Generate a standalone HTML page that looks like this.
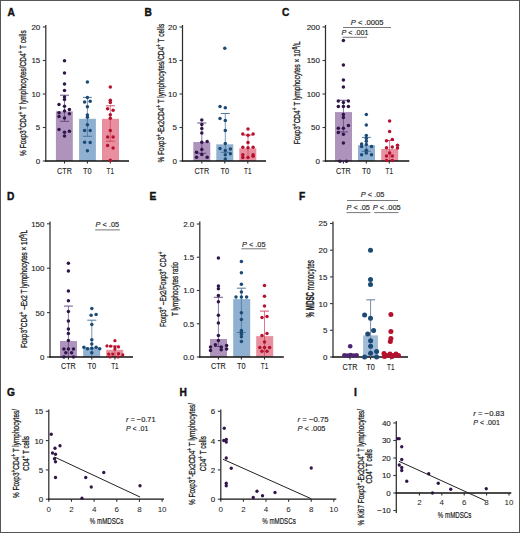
<!DOCTYPE html><html><head><meta charset="utf-8"><style>html,body{margin:0;padding:0;background:#fff;}svg{display:block;}</style></head><body>
<svg width="520" height="533" viewBox="0 0 520 533" font-family='"Liberation Sans", sans-serif'>
<rect x="0" y="0" width="520" height="533" fill="#fff" fill-opacity="1"/>
<line x1="0" y1="0.5" x2="520" y2="0.5" stroke="#555" stroke-width="1.0"/>
<line x1="0.5" y1="0" x2="0.5" y2="533" stroke="#555" stroke-width="1.0"/>
<line x1="519.5" y1="0" x2="519.5" y2="533" stroke="#555" stroke-width="1.0"/>
<line x1="0" y1="532.5" x2="520" y2="532.5" stroke="#555" stroke-width="1.0"/>
<text x="7.5" y="15.5" font-size="10.2" text-anchor="start" font-weight="bold" fill="#111"  stroke="#111" stroke-width="0.4">A</text>
<line x1="45.8" y1="25" x2="45.8" y2="161.5" stroke="#2e2e2e" stroke-width="1.25"/>
<line x1="42.8" y1="161.0" x2="45.8" y2="161.0" stroke="#3a3a3a" stroke-width="1.1"/>
<text x="40.3" y="163.9" font-size="8" text-anchor="end" font-weight="normal" fill="#222"  stroke="#222" stroke-width="0.12">0</text>
<line x1="42.8" y1="127.5" x2="45.8" y2="127.5" stroke="#3a3a3a" stroke-width="1.1"/>
<text x="40.3" y="130.4" font-size="8" text-anchor="end" font-weight="normal" fill="#222"  stroke="#222" stroke-width="0.12">5</text>
<line x1="42.8" y1="94.0" x2="45.8" y2="94.0" stroke="#3a3a3a" stroke-width="1.1"/>
<text x="40.3" y="96.9" font-size="8" text-anchor="end" font-weight="normal" fill="#222"  stroke="#222" stroke-width="0.12">10</text>
<line x1="42.8" y1="60.5" x2="45.8" y2="60.5" stroke="#3a3a3a" stroke-width="1.1"/>
<text x="40.3" y="63.4" font-size="8" text-anchor="end" font-weight="normal" fill="#222"  stroke="#222" stroke-width="0.12">15</text>
<line x1="42.8" y1="27.0" x2="45.8" y2="27.0" stroke="#3a3a3a" stroke-width="1.1"/>
<text x="40.3" y="29.9" font-size="8" text-anchor="end" font-weight="normal" fill="#222"  stroke="#222" stroke-width="0.12">20</text>
<rect x="55.9" y="111.3" width="16.9" height="49.7" fill="#ae94bc" fill-opacity="1"/>
<rect x="79.1" y="118.8" width="16.8" height="42.2" fill="#8fb0d0" fill-opacity="1"/>
<rect x="102" y="118.8" width="17" height="42.2" fill="#e8909f" fill-opacity="1"/>
<line x1="45.099999999999994" y1="161" x2="129" y2="161" stroke="#111" stroke-width="1.3"/>
<line x1="64.5" y1="161" x2="64.5" y2="163.5" stroke="#2a2a2a" stroke-width="1.1"/>
<line x1="87.4" y1="161" x2="87.4" y2="163.5" stroke="#2a2a2a" stroke-width="1.1"/>
<line x1="110.3" y1="161" x2="110.3" y2="163.5" stroke="#2a2a2a" stroke-width="1.1"/>
<line x1="64.5" y1="95.2" x2="64.5" y2="121.3" stroke="#5a3c78" stroke-width="0.7"/>
<line x1="60.0" y1="95.2" x2="69.0" y2="95.2" stroke="#5a3c78" stroke-width="0.9"/>
<line x1="60.0" y1="121.3" x2="69.0" y2="121.3" stroke="#5a3c78" stroke-width="0.9"/>
<line x1="87.4" y1="97.4" x2="87.4" y2="136.3" stroke="#3f6c96" stroke-width="0.7"/>
<line x1="82.9" y1="97.4" x2="91.9" y2="97.4" stroke="#3f6c96" stroke-width="0.9"/>
<line x1="82.9" y1="136.3" x2="91.9" y2="136.3" stroke="#3f6c96" stroke-width="0.9"/>
<line x1="110.3" y1="105.8" x2="110.3" y2="141.2" stroke="#d03c5c" stroke-width="0.7"/>
<line x1="105.8" y1="105.8" x2="114.8" y2="105.8" stroke="#d03c5c" stroke-width="0.9"/>
<line x1="105.8" y1="141.2" x2="114.8" y2="141.2" stroke="#d03c5c" stroke-width="0.9"/>
<circle cx="64.5" cy="60.8" r="1.75" fill="#30154a"/>
<circle cx="64.5" cy="73" r="1.75" fill="#30154a"/>
<circle cx="64.5" cy="83.9" r="1.75" fill="#30154a"/>
<circle cx="64.5" cy="90.5" r="1.75" fill="#30154a"/>
<circle cx="64.5" cy="97" r="1.75" fill="#30154a"/>
<circle cx="64.5" cy="99.6" r="1.75" fill="#30154a"/>
<circle cx="59" cy="104.4" r="1.75" fill="#30154a"/>
<circle cx="64.5" cy="106.3" r="1.75" fill="#30154a"/>
<circle cx="69.4" cy="109.5" r="1.75" fill="#30154a"/>
<circle cx="64.5" cy="110.9" r="1.75" fill="#30154a"/>
<circle cx="59" cy="112.7" r="1.75" fill="#30154a"/>
<circle cx="69.4" cy="113.7" r="1.75" fill="#30154a"/>
<circle cx="59" cy="116.5" r="1.75" fill="#30154a"/>
<circle cx="64.5" cy="117.9" r="1.75" fill="#30154a"/>
<circle cx="59" cy="129.4" r="1.75" fill="#30154a"/>
<circle cx="69.4" cy="131.3" r="1.75" fill="#30154a"/>
<circle cx="64.5" cy="132.2" r="1.75" fill="#30154a"/>
<circle cx="64.5" cy="135.9" r="1.75" fill="#30154a"/>
<circle cx="87.4" cy="81.9" r="1.75" fill="#1b4a74"/>
<circle cx="87.4" cy="97.4" r="1.75" fill="#1b4a74"/>
<circle cx="84.6" cy="101.9" r="1.75" fill="#1b4a74"/>
<circle cx="90.2" cy="101.2" r="1.75" fill="#1b4a74"/>
<circle cx="87.4" cy="106.75" r="1.75" fill="#1b4a74"/>
<circle cx="87.4" cy="115.1" r="1.75" fill="#1b4a74"/>
<circle cx="87.4" cy="117.2" r="1.75" fill="#1b4a74"/>
<circle cx="87.4" cy="124.8" r="1.75" fill="#1b4a74"/>
<circle cx="84.6" cy="130.4" r="1.75" fill="#1b4a74"/>
<circle cx="90.2" cy="130.4" r="1.75" fill="#1b4a74"/>
<circle cx="84.6" cy="142.2" r="1.75" fill="#1b4a74"/>
<circle cx="90.2" cy="142.6" r="1.75" fill="#1b4a74"/>
<circle cx="87.4" cy="150.8" r="1.75" fill="#1b4a74"/>
<circle cx="110.3" cy="87" r="1.75" fill="#b5112f"/>
<circle cx="110.3" cy="100.2" r="1.75" fill="#b5112f"/>
<circle cx="110.3" cy="102.6" r="1.75" fill="#b5112f"/>
<circle cx="107.6" cy="108.8" r="1.75" fill="#b5112f"/>
<circle cx="113.1" cy="110.2" r="1.75" fill="#b5112f"/>
<circle cx="110.3" cy="114.7" r="1.75" fill="#b5112f"/>
<circle cx="110.3" cy="118.3" r="1.75" fill="#b5112f"/>
<circle cx="110.3" cy="130.4" r="1.75" fill="#b5112f"/>
<circle cx="107.6" cy="136.9" r="1.75" fill="#b5112f"/>
<circle cx="113.1" cy="136.9" r="1.75" fill="#b5112f"/>
<circle cx="107.6" cy="145.6" r="1.75" fill="#b5112f"/>
<circle cx="113.1" cy="148" r="1.75" fill="#b5112f"/>
<circle cx="110.3" cy="160.2" r="1.75" fill="#b5112f"/>
<text x="64.5" y="173.8" font-size="8.6" text-anchor="middle" font-weight="normal" fill="#222" textLength="14.8" lengthAdjust="spacingAndGlyphs" stroke="#222" stroke-width="0.12">CTR</text>
<text x="87.4" y="173.8" font-size="8.6" text-anchor="middle" font-weight="normal" fill="#222" textLength="8.6" lengthAdjust="spacingAndGlyphs" stroke="#222" stroke-width="0.12">T0</text>
<text x="110.3" y="173.8" font-size="8.6" text-anchor="middle" font-weight="normal" fill="#222" textLength="7.4" lengthAdjust="spacingAndGlyphs" stroke="#222" stroke-width="0.12">T1</text>
<text transform="translate(26.2,93.10000000000001) rotate(-90)" x="0" y="0" font-size="9.2" font-weight="normal" text-anchor="middle" fill="#222" stroke="#222" stroke-width="0.3" textLength="125.60000000000001" lengthAdjust="spacingAndGlyphs">% Foxp3<tspan dy="-3" font-size="6.8">+</tspan><tspan dy="3">CD4</tspan><tspan dy="-3" font-size="6.8">+</tspan><tspan dy="3"> T lymphocytes/CD4</tspan><tspan dy="-3" font-size="6.8">+</tspan><tspan dy="3"> T cells</tspan></text>
<text x="144.5" y="15.5" font-size="10.2" text-anchor="start" font-weight="bold" fill="#111"  stroke="#111" stroke-width="0.4">B</text>
<line x1="182.5" y1="25" x2="182.5" y2="161.5" stroke="#2e2e2e" stroke-width="1.25"/>
<line x1="179.5" y1="161.0" x2="182.5" y2="161.0" stroke="#3a3a3a" stroke-width="1.1"/>
<text x="177.0" y="163.9" font-size="8" text-anchor="end" font-weight="normal" fill="#222"  stroke="#222" stroke-width="0.12">0</text>
<line x1="179.5" y1="127.5" x2="182.5" y2="127.5" stroke="#3a3a3a" stroke-width="1.1"/>
<text x="177.0" y="130.4" font-size="8" text-anchor="end" font-weight="normal" fill="#222"  stroke="#222" stroke-width="0.12">5</text>
<line x1="179.5" y1="94.0" x2="182.5" y2="94.0" stroke="#3a3a3a" stroke-width="1.1"/>
<text x="177.0" y="96.9" font-size="8" text-anchor="end" font-weight="normal" fill="#222"  stroke="#222" stroke-width="0.12">10</text>
<line x1="179.5" y1="60.5" x2="182.5" y2="60.5" stroke="#3a3a3a" stroke-width="1.1"/>
<text x="177.0" y="63.4" font-size="8" text-anchor="end" font-weight="normal" fill="#222"  stroke="#222" stroke-width="0.12">15</text>
<line x1="179.5" y1="27.0" x2="182.5" y2="27.0" stroke="#3a3a3a" stroke-width="1.1"/>
<text x="177.0" y="29.9" font-size="8" text-anchor="end" font-weight="normal" fill="#222"  stroke="#222" stroke-width="0.12">20</text>
<rect x="193.3" y="142" width="17" height="19" fill="#ae94bc" fill-opacity="1"/>
<rect x="216.3" y="144.3" width="17" height="16.69999999999999" fill="#8fb0d0" fill-opacity="1"/>
<rect x="239.3" y="148.3" width="17" height="12.699999999999989" fill="#e8909f" fill-opacity="1"/>
<line x1="181.8" y1="161" x2="266" y2="161" stroke="#111" stroke-width="1.3"/>
<line x1="201.8" y1="161" x2="201.8" y2="163.5" stroke="#2a2a2a" stroke-width="1.1"/>
<line x1="224.8" y1="161" x2="224.8" y2="163.5" stroke="#2a2a2a" stroke-width="1.1"/>
<line x1="247.8" y1="161" x2="247.8" y2="163.5" stroke="#2a2a2a" stroke-width="1.1"/>
<line x1="201.8" y1="123" x2="201.8" y2="153.3" stroke="#5a3c78" stroke-width="0.7"/>
<line x1="197.3" y1="123" x2="206.3" y2="123" stroke="#5a3c78" stroke-width="0.9"/>
<line x1="197.3" y1="153.3" x2="206.3" y2="153.3" stroke="#5a3c78" stroke-width="0.9"/>
<line x1="225.3" y1="113.5" x2="225.3" y2="152.3" stroke="#3f6c96" stroke-width="0.7"/>
<line x1="220.8" y1="113.5" x2="229.8" y2="113.5" stroke="#3f6c96" stroke-width="0.9"/>
<line x1="220.8" y1="152.3" x2="229.8" y2="152.3" stroke="#3f6c96" stroke-width="0.9"/>
<line x1="248" y1="135" x2="248" y2="158" stroke="#d03c5c" stroke-width="0.7"/>
<line x1="243.5" y1="135" x2="252.5" y2="135" stroke="#d03c5c" stroke-width="0.9"/>
<circle cx="201.8" cy="119.9" r="1.75" fill="#30154a"/>
<circle cx="201.8" cy="124.5" r="1.75" fill="#30154a"/>
<circle cx="201.8" cy="128.4" r="1.75" fill="#30154a"/>
<circle cx="201.8" cy="133" r="1.75" fill="#30154a"/>
<circle cx="201.8" cy="142.2" r="1.75" fill="#30154a"/>
<circle cx="207.2" cy="141.5" r="1.75" fill="#30154a"/>
<circle cx="201.8" cy="149.5" r="1.75" fill="#30154a"/>
<circle cx="196.5" cy="152.3" r="1.75" fill="#30154a"/>
<circle cx="201.8" cy="154.5" r="1.75" fill="#30154a"/>
<circle cx="196.5" cy="157.3" r="1.75" fill="#30154a"/>
<circle cx="207.2" cy="157.3" r="1.75" fill="#30154a"/>
<circle cx="224.8" cy="48.2" r="1.75" fill="#1b4a74"/>
<circle cx="220" cy="106.4" r="1.75" fill="#1b4a74"/>
<circle cx="225.3" cy="107.8" r="1.75" fill="#1b4a74"/>
<circle cx="220" cy="118.5" r="1.75" fill="#1b4a74"/>
<circle cx="225.3" cy="120.6" r="1.75" fill="#1b4a74"/>
<circle cx="225.3" cy="130.6" r="1.75" fill="#1b4a74"/>
<circle cx="225.3" cy="143.4" r="1.75" fill="#1b4a74"/>
<circle cx="220" cy="148.4" r="1.75" fill="#1b4a74"/>
<circle cx="230.4" cy="149.1" r="1.75" fill="#1b4a74"/>
<circle cx="225.3" cy="150.5" r="1.75" fill="#1b4a74"/>
<circle cx="230.4" cy="153.8" r="1.75" fill="#1b4a74"/>
<circle cx="225.3" cy="154.8" r="1.75" fill="#1b4a74"/>
<circle cx="225.3" cy="159" r="1.75" fill="#1b4a74"/>
<circle cx="248" cy="128.9" r="1.75" fill="#b5112f"/>
<circle cx="242.8" cy="134.1" r="1.75" fill="#b5112f"/>
<circle cx="248" cy="135.3" r="1.75" fill="#b5112f"/>
<circle cx="253.1" cy="134.1" r="1.75" fill="#b5112f"/>
<circle cx="248" cy="142.4" r="1.75" fill="#b5112f"/>
<circle cx="242.8" cy="147.2" r="1.75" fill="#b5112f"/>
<circle cx="253.1" cy="147.2" r="1.75" fill="#b5112f"/>
<circle cx="248" cy="147.7" r="1.75" fill="#b5112f"/>
<circle cx="242.8" cy="154.8" r="1.75" fill="#b5112f"/>
<circle cx="253.1" cy="154.8" r="1.75" fill="#b5112f"/>
<circle cx="242.8" cy="157.6" r="1.75" fill="#b5112f"/>
<circle cx="248" cy="157.6" r="1.75" fill="#b5112f"/>
<circle cx="253.1" cy="156.2" r="1.75" fill="#b5112f"/>
<text x="201.8" y="173.8" font-size="8.6" text-anchor="middle" font-weight="normal" fill="#222" textLength="14.8" lengthAdjust="spacingAndGlyphs" stroke="#222" stroke-width="0.12">CTR</text>
<text x="224.8" y="173.8" font-size="8.6" text-anchor="middle" font-weight="normal" fill="#222" textLength="8.6" lengthAdjust="spacingAndGlyphs" stroke="#222" stroke-width="0.12">T0</text>
<text x="247.8" y="173.8" font-size="8.6" text-anchor="middle" font-weight="normal" fill="#222" textLength="7.4" lengthAdjust="spacingAndGlyphs" stroke="#222" stroke-width="0.12">T1</text>
<text transform="translate(163.8,93.15) rotate(-90)" x="0" y="0" font-size="9.2" font-weight="normal" text-anchor="middle" fill="#222" stroke="#222" stroke-width="0.3" textLength="138.7" lengthAdjust="spacingAndGlyphs">% Foxp3<tspan dy="-3" font-size="6.8">+</tspan><tspan dy="3">-Ex2CD4</tspan><tspan dy="-3" font-size="6.8">+</tspan><tspan dy="3"> T lymphocytes/CD4</tspan><tspan dy="-3" font-size="6.8">+</tspan><tspan dy="3"> T cells</tspan></text>
<text x="282" y="15.5" font-size="10.2" text-anchor="start" font-weight="bold" fill="#111"  stroke="#111" stroke-width="0.4">C</text>
<line x1="325.5" y1="25" x2="325.5" y2="161.5" stroke="#2e2e2e" stroke-width="1.25"/>
<line x1="322.5" y1="161.0" x2="325.5" y2="161.0" stroke="#3a3a3a" stroke-width="1.1"/>
<text x="320.0" y="163.9" font-size="8" text-anchor="end" font-weight="normal" fill="#222"  stroke="#222" stroke-width="0.12">0</text>
<line x1="322.5" y1="127.5" x2="325.5" y2="127.5" stroke="#3a3a3a" stroke-width="1.1"/>
<text x="320.0" y="130.4" font-size="8" text-anchor="end" font-weight="normal" fill="#222"  stroke="#222" stroke-width="0.12">50</text>
<line x1="322.5" y1="94.0" x2="325.5" y2="94.0" stroke="#3a3a3a" stroke-width="1.1"/>
<text x="320.0" y="96.9" font-size="8" text-anchor="end" font-weight="normal" fill="#222"  stroke="#222" stroke-width="0.12">100</text>
<line x1="322.5" y1="60.5" x2="325.5" y2="60.5" stroke="#3a3a3a" stroke-width="1.1"/>
<text x="320.0" y="63.4" font-size="8" text-anchor="end" font-weight="normal" fill="#222"  stroke="#222" stroke-width="0.12">150</text>
<line x1="322.5" y1="27.0" x2="325.5" y2="27.0" stroke="#3a3a3a" stroke-width="1.1"/>
<text x="320.0" y="29.9" font-size="8" text-anchor="end" font-weight="normal" fill="#222"  stroke="#222" stroke-width="0.12">200</text>
<rect x="335" y="112.1" width="17" height="48.900000000000006" fill="#ae94bc" fill-opacity="1"/>
<rect x="358" y="145.2" width="17" height="15.800000000000011" fill="#8fb0d0" fill-opacity="1"/>
<rect x="381.2" y="149" width="17" height="12" fill="#e8909f" fill-opacity="1"/>
<line x1="324.8" y1="161" x2="409.3" y2="161" stroke="#111" stroke-width="1.3"/>
<line x1="343.4" y1="161" x2="343.4" y2="163.5" stroke="#2a2a2a" stroke-width="1.1"/>
<line x1="366.3" y1="161" x2="366.3" y2="163.5" stroke="#2a2a2a" stroke-width="1.1"/>
<line x1="389.3" y1="161" x2="389.3" y2="163.5" stroke="#2a2a2a" stroke-width="1.1"/>
<line x1="343.4" y1="100.3" x2="343.4" y2="131.9" stroke="#5a3c78" stroke-width="0.7"/>
<line x1="338.9" y1="100.3" x2="347.9" y2="100.3" stroke="#5a3c78" stroke-width="0.9"/>
<line x1="338.9" y1="131.9" x2="347.9" y2="131.9" stroke="#5a3c78" stroke-width="0.9"/>
<line x1="366.3" y1="137.4" x2="366.3" y2="151.3" stroke="#3f6c96" stroke-width="0.7"/>
<line x1="361.8" y1="137.4" x2="370.8" y2="137.4" stroke="#3f6c96" stroke-width="0.9"/>
<line x1="361.8" y1="151.3" x2="370.8" y2="151.3" stroke="#3f6c96" stroke-width="0.9"/>
<line x1="389.6" y1="140.5" x2="389.6" y2="160" stroke="#d03c5c" stroke-width="0.7"/>
<line x1="385.1" y1="140.5" x2="394.1" y2="140.5" stroke="#d03c5c" stroke-width="0.9"/>
<circle cx="343.4" cy="40.6" r="1.75" fill="#30154a"/>
<circle cx="343.4" cy="65" r="1.75" fill="#30154a"/>
<circle cx="343.4" cy="80.1" r="1.75" fill="#30154a"/>
<circle cx="343.4" cy="87" r="1.75" fill="#30154a"/>
<circle cx="338.3" cy="101" r="1.75" fill="#30154a"/>
<circle cx="343.4" cy="102.4" r="1.75" fill="#30154a"/>
<circle cx="348.4" cy="101" r="1.75" fill="#30154a"/>
<circle cx="338.3" cy="106.5" r="1.75" fill="#30154a"/>
<circle cx="343.4" cy="106.5" r="1.75" fill="#30154a"/>
<circle cx="348.4" cy="106.5" r="1.75" fill="#30154a"/>
<circle cx="343.4" cy="114.4" r="1.75" fill="#30154a"/>
<circle cx="343.4" cy="117.6" r="1.75" fill="#30154a"/>
<circle cx="348.4" cy="125.5" r="1.75" fill="#30154a"/>
<circle cx="338.3" cy="128.3" r="1.75" fill="#30154a"/>
<circle cx="343.4" cy="128.3" r="1.75" fill="#30154a"/>
<circle cx="338.3" cy="132.6" r="1.75" fill="#30154a"/>
<circle cx="343.4" cy="134.2" r="1.75" fill="#30154a"/>
<circle cx="343.4" cy="143" r="1.75" fill="#30154a"/>
<circle cx="340" cy="161.2" r="1.75" fill="#30154a"/>
<circle cx="346.5" cy="161.2" r="1.75" fill="#30154a"/>
<circle cx="366.3" cy="114.4" r="1.75" fill="#1b4a74"/>
<circle cx="366.3" cy="125" r="1.75" fill="#1b4a74"/>
<circle cx="366.3" cy="135.6" r="1.75" fill="#1b4a74"/>
<circle cx="366.3" cy="138.4" r="1.75" fill="#1b4a74"/>
<circle cx="366.3" cy="141.2" r="1.75" fill="#1b4a74"/>
<circle cx="361.6" cy="144" r="1.75" fill="#1b4a74"/>
<circle cx="366.3" cy="144.4" r="1.75" fill="#1b4a74"/>
<circle cx="361.6" cy="146.4" r="1.75" fill="#1b4a74"/>
<circle cx="371.5" cy="146.4" r="1.75" fill="#1b4a74"/>
<circle cx="366.3" cy="150.2" r="1.75" fill="#1b4a74"/>
<circle cx="366.3" cy="153" r="1.75" fill="#1b4a74"/>
<circle cx="361.6" cy="154.7" r="1.75" fill="#1b4a74"/>
<circle cx="371.5" cy="154.7" r="1.75" fill="#1b4a74"/>
<circle cx="389.6" cy="121.1" r="1.75" fill="#b5112f"/>
<circle cx="389.6" cy="131.5" r="1.75" fill="#b5112f"/>
<circle cx="386.5" cy="140.8" r="1.75" fill="#b5112f"/>
<circle cx="392.3" cy="139.4" r="1.75" fill="#b5112f"/>
<circle cx="397.5" cy="145.3" r="1.75" fill="#b5112f"/>
<circle cx="397.5" cy="148.1" r="1.75" fill="#b5112f"/>
<circle cx="386.5" cy="147.8" r="1.75" fill="#b5112f"/>
<circle cx="392.3" cy="147.1" r="1.75" fill="#b5112f"/>
<circle cx="389.6" cy="153" r="1.75" fill="#b5112f"/>
<circle cx="386.5" cy="156" r="1.75" fill="#b5112f"/>
<circle cx="392.3" cy="156" r="1.75" fill="#b5112f"/>
<circle cx="386.5" cy="160.6" r="1.75" fill="#b5112f"/>
<circle cx="392.3" cy="160.6" r="1.75" fill="#b5112f"/>
<text x="343.4" y="173.8" font-size="8.6" text-anchor="middle" font-weight="normal" fill="#222" textLength="14.8" lengthAdjust="spacingAndGlyphs" stroke="#222" stroke-width="0.12">CTR</text>
<text x="366.3" y="173.8" font-size="8.6" text-anchor="middle" font-weight="normal" fill="#222" textLength="8.6" lengthAdjust="spacingAndGlyphs" stroke="#222" stroke-width="0.12">T0</text>
<text x="389.3" y="173.8" font-size="8.6" text-anchor="middle" font-weight="normal" fill="#222" textLength="7.4" lengthAdjust="spacingAndGlyphs" stroke="#222" stroke-width="0.12">T1</text>
<text transform="translate(300.4,92.85) rotate(-90)" x="0" y="0" font-size="9.2" font-weight="normal" text-anchor="middle" fill="#222" stroke="#222" stroke-width="0.3" textLength="102.69999999999999" lengthAdjust="spacingAndGlyphs">Foxp3<tspan dy="-3" font-size="6.8">+</tspan><tspan dy="3">CD4</tspan><tspan dy="-3" font-size="6.8">+</tspan><tspan dy="3"> T lymphocytes × 10</tspan><tspan dy="-3" font-size="6.8">6</tspan><tspan dy="3">/L</tspan></text>
<text x="350.8" y="25.4" font-size="8" text-anchor="start" font-weight="normal" fill="#222" textLength="32.599999999999966" lengthAdjust="spacingAndGlyphs" stroke="#222" stroke-width="0.15"><tspan font-style="italic">P</tspan> &lt; .0005</text>
<line x1="343" y1="27.5" x2="391" y2="27.5" stroke="#555" stroke-width="0.8"/>
<text x="341.5" y="34.6" font-size="8" text-anchor="start" font-weight="normal" fill="#222" textLength="27.0" lengthAdjust="spacingAndGlyphs" stroke="#222" stroke-width="0.15"><tspan font-style="italic">P</tspan> &lt; .001</text>
<line x1="342.5" y1="37.3" x2="367" y2="37.3" stroke="#555" stroke-width="0.8"/>
<text x="7" y="200" font-size="10.2" text-anchor="start" font-weight="bold" fill="#111"  stroke="#111" stroke-width="0.4">D</text>
<line x1="50" y1="221.5" x2="50" y2="357.5" stroke="#2e2e2e" stroke-width="1.25"/>
<line x1="47" y1="357.0" x2="50" y2="357.0" stroke="#3a3a3a" stroke-width="1.1"/>
<text x="44.5" y="359.9" font-size="8" text-anchor="end" font-weight="normal" fill="#222"  stroke="#222" stroke-width="0.12">0</text>
<line x1="47" y1="312.6" x2="50" y2="312.6" stroke="#3a3a3a" stroke-width="1.1"/>
<text x="44.5" y="315.5" font-size="8" text-anchor="end" font-weight="normal" fill="#222"  stroke="#222" stroke-width="0.12">50</text>
<line x1="47" y1="268.2" x2="50" y2="268.2" stroke="#3a3a3a" stroke-width="1.1"/>
<text x="44.5" y="271.09999999999997" font-size="8" text-anchor="end" font-weight="normal" fill="#222"  stroke="#222" stroke-width="0.12">100</text>
<line x1="47" y1="223.8" x2="50" y2="223.8" stroke="#3a3a3a" stroke-width="1.1"/>
<text x="44.5" y="226.70000000000002" font-size="8" text-anchor="end" font-weight="normal" fill="#222"  stroke="#222" stroke-width="0.12">150</text>
<rect x="60" y="341" width="17" height="16" fill="#ae94bc" fill-opacity="1"/>
<rect x="83.2" y="347.6" width="17" height="9.399999999999977" fill="#8fb0d0" fill-opacity="1"/>
<rect x="106.2" y="349.8" width="17" height="7.199999999999989" fill="#e8909f" fill-opacity="1"/>
<line x1="49.3" y1="357" x2="133" y2="357" stroke="#111" stroke-width="1.3"/>
<line x1="68.4" y1="357" x2="68.4" y2="359.5" stroke="#2a2a2a" stroke-width="1.1"/>
<line x1="91.8" y1="357" x2="91.8" y2="359.5" stroke="#2a2a2a" stroke-width="1.1"/>
<line x1="114.9" y1="357" x2="114.9" y2="359.5" stroke="#2a2a2a" stroke-width="1.1"/>
<line x1="68.4" y1="306.1" x2="68.4" y2="356" stroke="#5a3c78" stroke-width="0.7"/>
<line x1="63.900000000000006" y1="306.1" x2="72.9" y2="306.1" stroke="#5a3c78" stroke-width="0.9"/>
<line x1="91.8" y1="320.2" x2="91.8" y2="356" stroke="#3f6c96" stroke-width="0.7"/>
<line x1="87.3" y1="320.2" x2="96.3" y2="320.2" stroke="#3f6c96" stroke-width="0.9"/>
<line x1="114.9" y1="346" x2="114.9" y2="356" stroke="#d03c5c" stroke-width="0.7"/>
<line x1="110.4" y1="346" x2="119.4" y2="346" stroke="#d03c5c" stroke-width="0.9"/>
<circle cx="68.4" cy="263.3" r="1.75" fill="#30154a"/>
<circle cx="68.4" cy="271.1" r="1.75" fill="#30154a"/>
<circle cx="68.4" cy="291" r="1.75" fill="#30154a"/>
<circle cx="68.4" cy="300.7" r="1.75" fill="#30154a"/>
<circle cx="68.4" cy="311.5" r="1.75" fill="#30154a"/>
<circle cx="68.4" cy="320.9" r="1.75" fill="#30154a"/>
<circle cx="68.4" cy="328.9" r="1.75" fill="#30154a"/>
<circle cx="68.4" cy="333.5" r="1.75" fill="#30154a"/>
<circle cx="68.4" cy="340.4" r="1.75" fill="#30154a"/>
<circle cx="63.9" cy="349.1" r="1.75" fill="#30154a"/>
<circle cx="68.4" cy="349.1" r="1.75" fill="#30154a"/>
<circle cx="73.5" cy="349.1" r="1.75" fill="#30154a"/>
<circle cx="65.8" cy="352.7" r="1.75" fill="#30154a"/>
<circle cx="71.6" cy="352.7" r="1.75" fill="#30154a"/>
<circle cx="63.9" cy="357" r="1.75" fill="#30154a"/>
<circle cx="73.5" cy="357" r="1.75" fill="#30154a"/>
<circle cx="91.8" cy="308.4" r="1.75" fill="#1b4a74"/>
<circle cx="91.1" cy="315.2" r="1.75" fill="#1b4a74"/>
<circle cx="96.1" cy="314.4" r="1.75" fill="#1b4a74"/>
<circle cx="91.8" cy="324.5" r="1.75" fill="#1b4a74"/>
<circle cx="91.8" cy="339.7" r="1.75" fill="#1b4a74"/>
<circle cx="91.8" cy="344" r="1.75" fill="#1b4a74"/>
<circle cx="83.9" cy="347.3" r="1.75" fill="#1b4a74"/>
<circle cx="87.5" cy="348.8" r="1.75" fill="#1b4a74"/>
<circle cx="91.8" cy="348.3" r="1.75" fill="#1b4a74"/>
<circle cx="96.1" cy="347.3" r="1.75" fill="#1b4a74"/>
<circle cx="99.7" cy="348.8" r="1.75" fill="#1b4a74"/>
<circle cx="91.8" cy="352.7" r="1.75" fill="#1b4a74"/>
<circle cx="114.9" cy="340.7" r="1.6" fill="#b5112f"/>
<circle cx="107" cy="345.9" r="1.6" fill="#b5112f"/>
<circle cx="110.6" cy="346.2" r="1.6" fill="#b5112f"/>
<circle cx="114.9" cy="346.9" r="1.6" fill="#b5112f"/>
<circle cx="118.5" cy="346.9" r="1.6" fill="#b5112f"/>
<circle cx="114.9" cy="349.1" r="1.6" fill="#b5112f"/>
<circle cx="108.7" cy="354.1" r="1.6" fill="#b5112f"/>
<circle cx="112.7" cy="354.1" r="1.6" fill="#b5112f"/>
<circle cx="118.5" cy="353.7" r="1.6" fill="#b5112f"/>
<circle cx="122.8" cy="354.8" r="1.6" fill="#b5112f"/>
<circle cx="110" cy="357" r="1.6" fill="#b5112f"/>
<circle cx="118" cy="357" r="1.6" fill="#b5112f"/>
<text x="68.4" y="369.3" font-size="8.6" text-anchor="middle" font-weight="normal" fill="#222" textLength="14.8" lengthAdjust="spacingAndGlyphs" stroke="#222" stroke-width="0.12">CTR</text>
<text x="91.8" y="369.3" font-size="8.6" text-anchor="middle" font-weight="normal" fill="#222" textLength="8.6" lengthAdjust="spacingAndGlyphs" stroke="#222" stroke-width="0.12">T0</text>
<text x="114.9" y="369.3" font-size="8.6" text-anchor="middle" font-weight="normal" fill="#222" textLength="7.4" lengthAdjust="spacingAndGlyphs" stroke="#222" stroke-width="0.12">T1</text>
<text transform="translate(26.9,288.85) rotate(-90)" x="0" y="0" font-size="9.2" font-weight="normal" text-anchor="middle" fill="#222" stroke="#222" stroke-width="0.3" textLength="118.09999999999997" lengthAdjust="spacingAndGlyphs">Foxp3<tspan dy="-3" font-size="6.8">+</tspan><tspan dy="3">CD4</tspan><tspan dy="-3" font-size="6.8">+</tspan><tspan dy="3"> –Ex2 T lymphocytes × 10</tspan><tspan dy="-3" font-size="6.8">6</tspan><tspan dy="3">/L</tspan></text>
<text x="95.6" y="227.3" font-size="8" text-anchor="start" font-weight="normal" fill="#222" textLength="23.5" lengthAdjust="spacingAndGlyphs" stroke="#222" stroke-width="0.15"><tspan font-style="italic">P</tspan> &lt; .05</text>
<line x1="95.1" y1="229.9" x2="119.8" y2="229.9" stroke="#555" stroke-width="0.8"/>
<text x="149.5" y="200" font-size="10.2" text-anchor="start" font-weight="bold" fill="#111"  stroke="#111" stroke-width="0.4">E</text>
<line x1="199.8" y1="221.5" x2="199.8" y2="357.5" stroke="#2e2e2e" stroke-width="1.25"/>
<line x1="196.8" y1="357.0" x2="199.8" y2="357.0" stroke="#3a3a3a" stroke-width="1.1"/>
<text x="194.3" y="359.9" font-size="8" text-anchor="end" font-weight="normal" fill="#222"  stroke="#222" stroke-width="0.12">0.0</text>
<line x1="196.8" y1="323.75" x2="199.8" y2="323.75" stroke="#3a3a3a" stroke-width="1.1"/>
<text x="194.3" y="326.65" font-size="8" text-anchor="end" font-weight="normal" fill="#222"  stroke="#222" stroke-width="0.12">0.5</text>
<line x1="196.8" y1="290.5" x2="199.8" y2="290.5" stroke="#3a3a3a" stroke-width="1.1"/>
<text x="194.3" y="293.4" font-size="8" text-anchor="end" font-weight="normal" fill="#222"  stroke="#222" stroke-width="0.12">1.0</text>
<line x1="196.8" y1="257.25" x2="199.8" y2="257.25" stroke="#3a3a3a" stroke-width="1.1"/>
<text x="194.3" y="260.15" font-size="8" text-anchor="end" font-weight="normal" fill="#222"  stroke="#222" stroke-width="0.12">1.5</text>
<line x1="196.8" y1="224.0" x2="199.8" y2="224.0" stroke="#3a3a3a" stroke-width="1.1"/>
<text x="194.3" y="226.9" font-size="8" text-anchor="end" font-weight="normal" fill="#222"  stroke="#222" stroke-width="0.12">2.0</text>
<rect x="210" y="339" width="17" height="18" fill="#ae94bc" fill-opacity="1"/>
<rect x="233.2" y="299.1" width="17" height="57.89999999999998" fill="#8fb0d0" fill-opacity="1"/>
<rect x="256.2" y="336.1" width="17" height="20.899999999999977" fill="#e8909f" fill-opacity="1"/>
<line x1="199.10000000000002" y1="357" x2="283.8" y2="357" stroke="#111" stroke-width="1.3"/>
<line x1="218.4" y1="357" x2="218.4" y2="359.5" stroke="#2a2a2a" stroke-width="1.1"/>
<line x1="241.4" y1="357" x2="241.4" y2="359.5" stroke="#2a2a2a" stroke-width="1.1"/>
<line x1="264.5" y1="357" x2="264.5" y2="359.5" stroke="#2a2a2a" stroke-width="1.1"/>
<line x1="218.4" y1="297.3" x2="218.4" y2="346.5" stroke="#5a3c78" stroke-width="0.7"/>
<line x1="213.9" y1="297.3" x2="222.9" y2="297.3" stroke="#5a3c78" stroke-width="0.9"/>
<line x1="213.9" y1="346.5" x2="222.9" y2="346.5" stroke="#5a3c78" stroke-width="0.9"/>
<line x1="241.4" y1="288.2" x2="241.4" y2="332.5" stroke="#3f6c96" stroke-width="0.7"/>
<line x1="236.9" y1="288.2" x2="245.9" y2="288.2" stroke="#3f6c96" stroke-width="0.9"/>
<line x1="236.9" y1="332.5" x2="245.9" y2="332.5" stroke="#3f6c96" stroke-width="0.9"/>
<line x1="264.5" y1="311.1" x2="264.5" y2="356" stroke="#d03c5c" stroke-width="0.7"/>
<line x1="260.0" y1="311.1" x2="269.0" y2="311.1" stroke="#d03c5c" stroke-width="0.9"/>
<circle cx="218.4" cy="257.9" r="1.75" fill="#30154a"/>
<circle cx="218.4" cy="286.1" r="1.75" fill="#30154a"/>
<circle cx="218.4" cy="288.7" r="1.75" fill="#30154a"/>
<circle cx="218.4" cy="295.5" r="1.75" fill="#30154a"/>
<circle cx="218.4" cy="301.7" r="1.75" fill="#30154a"/>
<circle cx="218.4" cy="315.2" r="1.75" fill="#30154a"/>
<circle cx="218.4" cy="323.1" r="1.75" fill="#30154a"/>
<circle cx="218.4" cy="335.4" r="1.75" fill="#30154a"/>
<circle cx="218.4" cy="340.4" r="1.75" fill="#30154a"/>
<circle cx="215.4" cy="344.7" r="1.75" fill="#30154a"/>
<circle cx="210.5" cy="346.9" r="1.75" fill="#30154a"/>
<circle cx="210.5" cy="350.5" r="1.75" fill="#30154a"/>
<circle cx="221.2" cy="346.9" r="1.75" fill="#30154a"/>
<circle cx="221.2" cy="349.8" r="1.75" fill="#30154a"/>
<circle cx="226.6" cy="345.5" r="1.75" fill="#30154a"/>
<circle cx="226.6" cy="349.1" r="1.75" fill="#30154a"/>
<circle cx="241.4" cy="261.5" r="1.75" fill="#1b4a74"/>
<circle cx="241.4" cy="272.7" r="1.75" fill="#1b4a74"/>
<circle cx="241.4" cy="284.3" r="1.75" fill="#1b4a74"/>
<circle cx="241.4" cy="292.1" r="1.75" fill="#1b4a74"/>
<circle cx="236" cy="296.9" r="1.75" fill="#1b4a74"/>
<circle cx="241.4" cy="296.9" r="1.75" fill="#1b4a74"/>
<circle cx="246.6" cy="296.9" r="1.75" fill="#1b4a74"/>
<circle cx="241.4" cy="312.7" r="1.75" fill="#1b4a74"/>
<circle cx="241.4" cy="319.5" r="1.75" fill="#1b4a74"/>
<circle cx="241.4" cy="330.6" r="1.75" fill="#1b4a74"/>
<circle cx="241.4" cy="332" r="1.75" fill="#1b4a74"/>
<circle cx="241.4" cy="334.3" r="1.75" fill="#1b4a74"/>
<circle cx="241.4" cy="336.8" r="1.75" fill="#1b4a74"/>
<circle cx="241.4" cy="341.6" r="1.75" fill="#1b4a74"/>
<circle cx="264.5" cy="285.4" r="1.75" fill="#b5112f"/>
<circle cx="264.5" cy="296.2" r="1.75" fill="#b5112f"/>
<circle cx="264.5" cy="306" r="1.75" fill="#b5112f"/>
<circle cx="262" cy="317.6" r="1.75" fill="#b5112f"/>
<circle cx="267" cy="316.6" r="1.75" fill="#b5112f"/>
<circle cx="262" cy="335.4" r="1.75" fill="#b5112f"/>
<circle cx="267" cy="333.5" r="1.75" fill="#b5112f"/>
<circle cx="264.5" cy="342.1" r="1.75" fill="#b5112f"/>
<circle cx="259.8" cy="347.6" r="1.75" fill="#b5112f"/>
<circle cx="264.5" cy="347.6" r="1.75" fill="#b5112f"/>
<circle cx="269.6" cy="347.6" r="1.75" fill="#b5112f"/>
<circle cx="262" cy="351.2" r="1.75" fill="#b5112f"/>
<circle cx="267" cy="351.2" r="1.75" fill="#b5112f"/>
<text x="218.4" y="369.3" font-size="8.6" text-anchor="middle" font-weight="normal" fill="#222" textLength="14.8" lengthAdjust="spacingAndGlyphs" stroke="#222" stroke-width="0.12">CTR</text>
<text x="241.4" y="369.3" font-size="8.6" text-anchor="middle" font-weight="normal" fill="#222" textLength="8.6" lengthAdjust="spacingAndGlyphs" stroke="#222" stroke-width="0.12">T0</text>
<text x="264.5" y="369.3" font-size="8.6" text-anchor="middle" font-weight="normal" fill="#222" textLength="7.4" lengthAdjust="spacingAndGlyphs" stroke="#222" stroke-width="0.12">T1</text>
<text transform="translate(166.3,289.3) rotate(-90)" x="0" y="0" font-size="9.2" font-weight="normal" text-anchor="middle" fill="#222" stroke="#222" stroke-width="0.3" textLength="75.4" lengthAdjust="spacingAndGlyphs">Foxp3<tspan dy="-3" font-size="6.8">+</tspan><tspan dy="3"> –Ex2/Foxp3</tspan><tspan dy="-3" font-size="6.8">+</tspan><tspan dy="3"> CD4</tspan><tspan dy="-3" font-size="6.8">+</tspan><tspan dy="3"></tspan></text>
<text transform="translate(178.1,289.0) rotate(-90)" x="0" y="0" font-size="9.2" font-weight="normal" text-anchor="middle" fill="#222" stroke="#222" stroke-width="0.3" textLength="54" lengthAdjust="spacingAndGlyphs">T lymphocytes ratio</text>
<text x="242" y="246.6" font-size="8" text-anchor="start" font-weight="normal" fill="#222" textLength="23.5" lengthAdjust="spacingAndGlyphs" stroke="#222" stroke-width="0.15"><tspan font-style="italic">P</tspan> &lt; .05</text>
<line x1="241.25" y1="248.8" x2="266.25" y2="248.8" stroke="#555" stroke-width="0.8"/>
<text x="299" y="200" font-size="10.2" text-anchor="start" font-weight="bold" fill="#111"  stroke="#111" stroke-width="0.4">F</text>
<line x1="333" y1="221.5" x2="333" y2="357.5" stroke="#2e2e2e" stroke-width="1.25"/>
<line x1="330" y1="357.0" x2="333" y2="357.0" stroke="#3a3a3a" stroke-width="1.1"/>
<text x="327.5" y="359.9" font-size="8" text-anchor="end" font-weight="normal" fill="#222"  stroke="#222" stroke-width="0.12">0</text>
<line x1="330" y1="330.3" x2="333" y2="330.3" stroke="#3a3a3a" stroke-width="1.1"/>
<text x="327.5" y="333.2" font-size="8" text-anchor="end" font-weight="normal" fill="#222"  stroke="#222" stroke-width="0.12">5</text>
<line x1="330" y1="303.6" x2="333" y2="303.6" stroke="#3a3a3a" stroke-width="1.1"/>
<text x="327.5" y="306.5" font-size="8" text-anchor="end" font-weight="normal" fill="#222"  stroke="#222" stroke-width="0.12">10</text>
<line x1="330" y1="276.9" x2="333" y2="276.9" stroke="#3a3a3a" stroke-width="1.1"/>
<text x="327.5" y="279.79999999999995" font-size="8" text-anchor="end" font-weight="normal" fill="#222"  stroke="#222" stroke-width="0.12">15</text>
<line x1="330" y1="250.2" x2="333" y2="250.2" stroke="#3a3a3a" stroke-width="1.1"/>
<text x="327.5" y="253.1" font-size="8" text-anchor="end" font-weight="normal" fill="#222"  stroke="#222" stroke-width="0.12">20</text>
<line x1="330" y1="223.5" x2="333" y2="223.5" stroke="#3a3a3a" stroke-width="1.1"/>
<text x="327.5" y="226.4" font-size="8" text-anchor="end" font-weight="normal" fill="#222"  stroke="#222" stroke-width="0.12">25</text>
<rect x="363.1" y="335.4" width="14.9" height="21.600000000000023" fill="#8fb0d0" fill-opacity="0.85"/>
<line x1="332.3" y1="357" x2="408" y2="357" stroke="#111" stroke-width="1.3"/>
<line x1="350" y1="357" x2="350" y2="359.5" stroke="#2a2a2a" stroke-width="1.1"/>
<line x1="370.6" y1="357" x2="370.6" y2="359.5" stroke="#2a2a2a" stroke-width="1.1"/>
<line x1="390.8" y1="357" x2="390.8" y2="359.5" stroke="#2a2a2a" stroke-width="1.1"/>
<line x1="370.6" y1="299.8" x2="370.6" y2="357" stroke="#7a8ea8" stroke-width="1.0"/>
<line x1="366.3" y1="299.8" x2="375" y2="299.8" stroke="#7a8ea8" stroke-width="1.2"/>
<circle cx="350.2" cy="346.2" r="2.3" fill="#4e2470"/>
<circle cx="344.4" cy="355.3" r="2.3" fill="#4e2470"/>
<circle cx="347.5" cy="355.6" r="2.3" fill="#4e2470"/>
<circle cx="350.6" cy="355" r="2.3" fill="#4e2470"/>
<circle cx="353.7" cy="355.6" r="2.3" fill="#4e2470"/>
<circle cx="356.6" cy="355.3" r="2.3" fill="#4e2470"/>
<circle cx="370.5" cy="250.3" r="2.5" fill="#1b4a74"/>
<circle cx="370.5" cy="279.5" r="2.5" fill="#1b4a74"/>
<circle cx="370.5" cy="284.5" r="2.5" fill="#1b4a74"/>
<circle cx="364.6" cy="315" r="2.5" fill="#1b4a74"/>
<circle cx="370.5" cy="318.2" r="2.5" fill="#1b4a74"/>
<circle cx="373.6" cy="330.4" r="2.5" fill="#1b4a74"/>
<circle cx="367.7" cy="334" r="2.5" fill="#1b4a74"/>
<circle cx="370.6" cy="340.8" r="2.5" fill="#1b4a74"/>
<circle cx="370.6" cy="346.2" r="2.5" fill="#1b4a74"/>
<circle cx="370.6" cy="353.2" r="2.5" fill="#1b4a74"/>
<circle cx="376.6" cy="351.6" r="2.5" fill="#1b4a74"/>
<circle cx="364.6" cy="357" r="2.5" fill="#1b4a74"/>
<circle cx="376.6" cy="357" r="2.5" fill="#1b4a74"/>
<circle cx="390.9" cy="314.4" r="2.5" fill="#b5112f"/>
<circle cx="390.9" cy="331.6" r="2.5" fill="#b5112f"/>
<circle cx="390.9" cy="338.5" r="2.5" fill="#b5112f"/>
<circle cx="390.3" cy="341.4" r="2.5" fill="#b5112f"/>
<circle cx="384" cy="353.5" r="2.5" fill="#b5112f"/>
<circle cx="387" cy="355.5" r="2.5" fill="#b5112f"/>
<circle cx="390" cy="354" r="2.5" fill="#b5112f"/>
<circle cx="393" cy="355.5" r="2.5" fill="#b5112f"/>
<circle cx="396" cy="354" r="2.5" fill="#b5112f"/>
<circle cx="398.5" cy="355.5" r="2.5" fill="#b5112f"/>
<circle cx="384.5" cy="356.5" r="2.5" fill="#b5112f"/>
<circle cx="392" cy="356.5" r="2.5" fill="#b5112f"/>
<text x="350" y="369.5" font-size="8.6" text-anchor="middle" font-weight="normal" fill="#222" textLength="14.8" lengthAdjust="spacingAndGlyphs" stroke="#222" stroke-width="0.12">CTR</text>
<text x="370.6" y="369.5" font-size="8.6" text-anchor="middle" font-weight="normal" fill="#222" textLength="8.6" lengthAdjust="spacingAndGlyphs" stroke="#222" stroke-width="0.12">T0</text>
<text x="390.8" y="369.5" font-size="8.6" text-anchor="middle" font-weight="normal" fill="#222" textLength="7.4" lengthAdjust="spacingAndGlyphs" stroke="#222" stroke-width="0.12">T1</text>
<text transform="translate(313.6,288.85) rotate(-90)" x="0" y="0" font-size="10.2" font-weight="normal" text-anchor="middle" fill="#222" stroke="#222" stroke-width="0.3" textLength="57.30000000000001" lengthAdjust="spacingAndGlyphs">% <tspan font-weight="bold">MDSC</tspan> monocytes</text>
<text x="360.75" y="197.2" font-size="8" text-anchor="start" font-weight="normal" fill="#222" textLength="23.75" lengthAdjust="spacingAndGlyphs" stroke="#222" stroke-width="0.15"><tspan font-style="italic">P</tspan> &lt; .05</text>
<line x1="347" y1="200.5" x2="398" y2="200.5" stroke="#555" stroke-width="0.8"/>
<text x="346.5" y="209.7" font-size="8" text-anchor="start" font-weight="normal" fill="#222" textLength="23.399999999999977" lengthAdjust="spacingAndGlyphs" stroke="#222" stroke-width="0.15"><tspan font-style="italic">P</tspan> &lt; .05</text>
<line x1="346.5" y1="212.6" x2="370.4" y2="212.6" stroke="#555" stroke-width="0.8"/>
<text x="372.8" y="209.7" font-size="8" text-anchor="start" font-weight="normal" fill="#222" textLength="27.899999999999977" lengthAdjust="spacingAndGlyphs" stroke="#222" stroke-width="0.15"><tspan font-style="italic">P</tspan> &lt; .005</text>
<line x1="374.2" y1="212.6" x2="398.5" y2="212.6" stroke="#555" stroke-width="0.8"/>
<text x="7" y="396" font-size="10.2" text-anchor="start" font-weight="bold" fill="#111"  stroke="#111" stroke-width="0.4">G</text>
<line x1="48.8" y1="409.5" x2="48.8" y2="499.7" stroke="#2e2e2e" stroke-width="1.25"/>
<line x1="45.8" y1="499.2" x2="48.8" y2="499.2" stroke="#3a3a3a" stroke-width="1.1"/>
<text x="43.3" y="502.09999999999997" font-size="8" text-anchor="end" font-weight="normal" fill="#222"  stroke="#222" stroke-width="0.12">0</text>
<line x1="45.8" y1="469.9" x2="48.8" y2="469.9" stroke="#3a3a3a" stroke-width="1.1"/>
<text x="43.3" y="472.79999999999995" font-size="8" text-anchor="end" font-weight="normal" fill="#222"  stroke="#222" stroke-width="0.12">5</text>
<line x1="45.8" y1="440.59999999999997" x2="48.8" y2="440.59999999999997" stroke="#3a3a3a" stroke-width="1.1"/>
<text x="43.3" y="443.49999999999994" font-size="8" text-anchor="end" font-weight="normal" fill="#222"  stroke="#222" stroke-width="0.12">10</text>
<line x1="45.8" y1="411.29999999999995" x2="48.8" y2="411.29999999999995" stroke="#3a3a3a" stroke-width="1.1"/>
<text x="43.3" y="414.19999999999993" font-size="8" text-anchor="end" font-weight="normal" fill="#222"  stroke="#222" stroke-width="0.12">15</text>
<line x1="48.099999999999994" y1="499.2" x2="164" y2="499.2" stroke="#111" stroke-width="1.3"/>
<line x1="48.8" y1="499.2" x2="48.8" y2="501.7" stroke="#2a2a2a" stroke-width="1.1"/>
<text x="48.8" y="511.8" font-size="8" text-anchor="middle" font-weight="normal" fill="#222"  >0</text>
<line x1="71.46" y1="499.2" x2="71.46" y2="501.7" stroke="#2a2a2a" stroke-width="1.1"/>
<text x="71.46" y="511.8" font-size="8" text-anchor="middle" font-weight="normal" fill="#222"  >2</text>
<line x1="94.12" y1="499.2" x2="94.12" y2="501.7" stroke="#2a2a2a" stroke-width="1.1"/>
<text x="94.12" y="511.8" font-size="8" text-anchor="middle" font-weight="normal" fill="#222"  >4</text>
<line x1="116.78" y1="499.2" x2="116.78" y2="501.7" stroke="#2a2a2a" stroke-width="1.1"/>
<text x="116.78" y="511.8" font-size="8" text-anchor="middle" font-weight="normal" fill="#222"  >6</text>
<line x1="139.44" y1="499.2" x2="139.44" y2="501.7" stroke="#2a2a2a" stroke-width="1.1"/>
<text x="139.44" y="511.8" font-size="8" text-anchor="middle" font-weight="normal" fill="#222"  >8</text>
<line x1="162.1" y1="499.2" x2="162.1" y2="501.7" stroke="#2a2a2a" stroke-width="1.1"/>
<text x="162.1" y="511.8" font-size="8" text-anchor="middle" font-weight="normal" fill="#222"  >10</text>
<text x="106.6" y="523.8" font-size="9.2" text-anchor="middle" font-weight="normal" fill="#222" textLength="33.5" lengthAdjust="spacingAndGlyphs" stroke="#222" stroke-width="0.2">% mMDSCs</text>
<circle cx="51.25" cy="434.25" r="1.65" fill="#30154a"/>
<circle cx="52.5" cy="453" r="1.65" fill="#30154a"/>
<circle cx="60" cy="445.75" r="1.65" fill="#30154a"/>
<circle cx="55" cy="448.25" r="1.65" fill="#30154a"/>
<circle cx="55.5" cy="454.25" r="1.65" fill="#30154a"/>
<circle cx="54.5" cy="458.75" r="1.65" fill="#30154a"/>
<circle cx="55.5" cy="461.75" r="1.65" fill="#30154a"/>
<circle cx="55.5" cy="477.5" r="1.65" fill="#30154a"/>
<circle cx="85.75" cy="477.5" r="1.65" fill="#30154a"/>
<circle cx="103.75" cy="472.5" r="1.65" fill="#30154a"/>
<circle cx="91.25" cy="487" r="1.65" fill="#30154a"/>
<circle cx="82" cy="498.25" r="1.65" fill="#30154a"/>
<circle cx="140" cy="485.75" r="1.65" fill="#30154a"/>
<line x1="54.5" y1="457" x2="140" y2="497" stroke="#222" stroke-width="1.0"/>
<text transform="translate(18.5,453.5) rotate(-90)" x="0" y="0" font-size="9.2" font-weight="normal" text-anchor="middle" fill="#222" stroke="#222" stroke-width="0.3" textLength="89" lengthAdjust="spacingAndGlyphs">% Foxp3<tspan dy="-3" font-size="6.8">+</tspan><tspan dy="3">CD4</tspan><tspan dy="-3" font-size="6.8">+</tspan><tspan dy="3"> T lymphocytes/</tspan></text>
<text transform="translate(29.2,453.4) rotate(-90)" x="0" y="0" font-size="9.2" font-weight="normal" text-anchor="middle" fill="#222" stroke="#222" stroke-width="0.3" textLength="34.80000000000001" lengthAdjust="spacingAndGlyphs">CD4<tspan dy="-3" font-size="6.8">+</tspan><tspan dy="3"> T cells</tspan></text>
<text x="125.9" y="422.0" font-size="8" text-anchor="start" font-weight="normal" fill="#222" textLength="29.7" lengthAdjust="spacingAndGlyphs" stroke="#222" stroke-width="0.15"><tspan font-style="italic">r</tspan> = −0.71</text>
<text x="125.9" y="430.9" font-size="8" text-anchor="start" font-weight="normal" fill="#222" textLength="22.5" lengthAdjust="spacingAndGlyphs" stroke="#222" stroke-width="0.15"><tspan font-style="italic">P</tspan> &lt; .01</text>
<text x="179.5" y="396" font-size="10.2" text-anchor="start" font-weight="bold" fill="#111"  stroke="#111" stroke-width="0.4">H</text>
<line x1="220.8" y1="409.5" x2="220.8" y2="499.7" stroke="#2e2e2e" stroke-width="1.25"/>
<line x1="217.8" y1="499.2" x2="220.8" y2="499.2" stroke="#3a3a3a" stroke-width="1.1"/>
<text x="215.3" y="502.09999999999997" font-size="8" text-anchor="end" font-weight="normal" fill="#222"  stroke="#222" stroke-width="0.12">0</text>
<line x1="217.8" y1="469.9" x2="220.8" y2="469.9" stroke="#3a3a3a" stroke-width="1.1"/>
<text x="215.3" y="472.79999999999995" font-size="8" text-anchor="end" font-weight="normal" fill="#222"  stroke="#222" stroke-width="0.12">2</text>
<line x1="217.8" y1="440.59999999999997" x2="220.8" y2="440.59999999999997" stroke="#3a3a3a" stroke-width="1.1"/>
<text x="215.3" y="443.49999999999994" font-size="8" text-anchor="end" font-weight="normal" fill="#222"  stroke="#222" stroke-width="0.12">4</text>
<line x1="217.8" y1="411.29999999999995" x2="220.8" y2="411.29999999999995" stroke="#3a3a3a" stroke-width="1.1"/>
<text x="215.3" y="414.19999999999993" font-size="8" text-anchor="end" font-weight="normal" fill="#222"  stroke="#222" stroke-width="0.12">6</text>
<line x1="220.10000000000002" y1="499.2" x2="336.3" y2="499.2" stroke="#111" stroke-width="1.3"/>
<line x1="220.8" y1="499.2" x2="220.8" y2="501.7" stroke="#2a2a2a" stroke-width="1.1"/>
<text x="220.8" y="511.8" font-size="8" text-anchor="middle" font-weight="normal" fill="#222"  >0</text>
<line x1="243.4" y1="499.2" x2="243.4" y2="501.7" stroke="#2a2a2a" stroke-width="1.1"/>
<text x="243.4" y="511.8" font-size="8" text-anchor="middle" font-weight="normal" fill="#222"  >2</text>
<line x1="266.0" y1="499.2" x2="266.0" y2="501.7" stroke="#2a2a2a" stroke-width="1.1"/>
<text x="266.0" y="511.8" font-size="8" text-anchor="middle" font-weight="normal" fill="#222"  >4</text>
<line x1="288.6" y1="499.2" x2="288.6" y2="501.7" stroke="#2a2a2a" stroke-width="1.1"/>
<text x="288.6" y="511.8" font-size="8" text-anchor="middle" font-weight="normal" fill="#222"  >6</text>
<line x1="311.20000000000005" y1="499.2" x2="311.20000000000005" y2="501.7" stroke="#2a2a2a" stroke-width="1.1"/>
<text x="311.20000000000005" y="511.8" font-size="8" text-anchor="middle" font-weight="normal" fill="#222"  >8</text>
<line x1="333.8" y1="499.2" x2="333.8" y2="501.7" stroke="#2a2a2a" stroke-width="1.1"/>
<text x="333.8" y="511.8" font-size="8" text-anchor="middle" font-weight="normal" fill="#222"  >10</text>
<text x="279" y="523.8" font-size="9.2" text-anchor="middle" font-weight="normal" fill="#222" textLength="33.5" lengthAdjust="spacingAndGlyphs" stroke="#222" stroke-width="0.2">% mMDSCs</text>
<circle cx="224.25" cy="428.25" r="1.65" fill="#30154a"/>
<circle cx="223.75" cy="440.5" r="1.65" fill="#30154a"/>
<circle cx="226.25" cy="439.5" r="1.65" fill="#30154a"/>
<circle cx="226.25" cy="442" r="1.65" fill="#30154a"/>
<circle cx="226.25" cy="458" r="1.65" fill="#30154a"/>
<circle cx="231.25" cy="468.25" r="1.65" fill="#30154a"/>
<circle cx="226.25" cy="483.25" r="1.65" fill="#30154a"/>
<circle cx="226.25" cy="485.75" r="1.65" fill="#30154a"/>
<circle cx="253.25" cy="497.5" r="1.65" fill="#30154a"/>
<circle cx="257" cy="491.25" r="1.65" fill="#30154a"/>
<circle cx="262.5" cy="495.75" r="1.65" fill="#30154a"/>
<circle cx="275" cy="492.5" r="1.65" fill="#30154a"/>
<circle cx="311.25" cy="468" r="1.65" fill="#30154a"/>
<line x1="223" y1="459.25" x2="311.25" y2="498.75" stroke="#222" stroke-width="1.0"/>
<text transform="translate(194.6,454.0) rotate(-90)" x="0" y="0" font-size="9.2" font-weight="normal" text-anchor="middle" fill="#222" stroke="#222" stroke-width="0.3" textLength="102" lengthAdjust="spacingAndGlyphs">% Foxp3<tspan dy="-3" font-size="6.8">+</tspan><tspan dy="3">-Ex2CD4</tspan><tspan dy="-3" font-size="6.8">+</tspan><tspan dy="3"> T lymphocytes/</tspan></text>
<text transform="translate(205.9,453.75) rotate(-90)" x="0" y="0" font-size="9.2" font-weight="normal" text-anchor="middle" fill="#222" stroke="#222" stroke-width="0.3" textLength="35.10000000000002" lengthAdjust="spacingAndGlyphs">CD4<tspan dy="-3" font-size="6.8">+</tspan><tspan dy="3"> T cells</tspan></text>
<text x="297.5" y="422.0" font-size="8" text-anchor="start" font-weight="normal" fill="#222" textLength="31" lengthAdjust="spacingAndGlyphs" stroke="#222" stroke-width="0.15"><tspan font-style="italic">r</tspan> = −0.75</text>
<text x="297.5" y="430.9" font-size="8" text-anchor="start" font-weight="normal" fill="#222" textLength="28" lengthAdjust="spacingAndGlyphs" stroke="#222" stroke-width="0.15"><tspan font-style="italic">P</tspan> &lt; .005</text>
<text x="354" y="395.5" font-size="10.2" text-anchor="start" font-weight="bold" fill="#111"  stroke="#111" stroke-width="0.4">I</text>
<line x1="396.3" y1="421" x2="396.3" y2="513.0" stroke="#2e2e2e" stroke-width="1.25"/>
<line x1="393.3" y1="510.5" x2="396.3" y2="510.5" stroke="#3a3a3a" stroke-width="1.1"/>
<text x="390.8" y="513.4" font-size="8" text-anchor="end" font-weight="normal" fill="#222"  stroke="#222" stroke-width="0.12">−10</text>
<line x1="393.3" y1="493.0" x2="396.3" y2="493.0" stroke="#3a3a3a" stroke-width="1.1"/>
<text x="390.8" y="495.9" font-size="8" text-anchor="end" font-weight="normal" fill="#222"  stroke="#222" stroke-width="0.12">0</text>
<line x1="393.3" y1="475.5" x2="396.3" y2="475.5" stroke="#3a3a3a" stroke-width="1.1"/>
<text x="390.8" y="478.4" font-size="8" text-anchor="end" font-weight="normal" fill="#222"  stroke="#222" stroke-width="0.12">10</text>
<line x1="393.3" y1="458.0" x2="396.3" y2="458.0" stroke="#3a3a3a" stroke-width="1.1"/>
<text x="390.8" y="460.9" font-size="8" text-anchor="end" font-weight="normal" fill="#222"  stroke="#222" stroke-width="0.12">20</text>
<line x1="393.3" y1="440.5" x2="396.3" y2="440.5" stroke="#3a3a3a" stroke-width="1.1"/>
<text x="390.8" y="443.4" font-size="8" text-anchor="end" font-weight="normal" fill="#222"  stroke="#222" stroke-width="0.12">30</text>
<line x1="393.3" y1="423.0" x2="396.3" y2="423.0" stroke="#3a3a3a" stroke-width="1.1"/>
<text x="390.8" y="425.9" font-size="8" text-anchor="end" font-weight="normal" fill="#222"  stroke="#222" stroke-width="0.12">40</text>
<line x1="395.6" y1="493" x2="511.3" y2="493" stroke="#111" stroke-width="1.3"/>
<line x1="419.4" y1="493" x2="419.4" y2="495.5" stroke="#2a2a2a" stroke-width="1.1"/>
<text x="419.4" y="505" font-size="8" text-anchor="middle" font-weight="normal" fill="#222"  >2</text>
<line x1="441.8" y1="493" x2="441.8" y2="495.5" stroke="#2a2a2a" stroke-width="1.1"/>
<text x="441.8" y="505" font-size="8" text-anchor="middle" font-weight="normal" fill="#222"  >4</text>
<line x1="464.2" y1="493" x2="464.2" y2="495.5" stroke="#2a2a2a" stroke-width="1.1"/>
<text x="464.2" y="505" font-size="8" text-anchor="middle" font-weight="normal" fill="#222"  >6</text>
<line x1="486.6" y1="493" x2="486.6" y2="495.5" stroke="#2a2a2a" stroke-width="1.1"/>
<text x="486.6" y="505" font-size="8" text-anchor="middle" font-weight="normal" fill="#222"  >8</text>
<line x1="509.0" y1="493" x2="509.0" y2="495.5" stroke="#2a2a2a" stroke-width="1.1"/>
<text x="509.0" y="505" font-size="8" text-anchor="middle" font-weight="normal" fill="#222"  >10</text>
<text x="454.6" y="517.5" font-size="9.2" text-anchor="middle" font-weight="normal" fill="#222" textLength="33.5" lengthAdjust="spacingAndGlyphs" stroke="#222" stroke-width="0.2">% mMDSCs</text>
<circle cx="397.6" cy="438.7" r="1.65" fill="#30154a"/>
<circle cx="399.2" cy="438.7" r="1.65" fill="#30154a"/>
<circle cx="401.75" cy="446.75" r="1.65" fill="#30154a"/>
<circle cx="401.75" cy="459.5" r="1.65" fill="#30154a"/>
<circle cx="399.25" cy="465" r="1.65" fill="#30154a"/>
<circle cx="401.75" cy="467.5" r="1.65" fill="#30154a"/>
<circle cx="401.75" cy="470.5" r="1.65" fill="#30154a"/>
<circle cx="406.75" cy="481.25" r="1.65" fill="#30154a"/>
<circle cx="428.75" cy="473.75" r="1.65" fill="#30154a"/>
<circle cx="438.25" cy="483.25" r="1.65" fill="#30154a"/>
<circle cx="450.75" cy="489.25" r="1.65" fill="#30154a"/>
<circle cx="432.5" cy="493" r="1.65" fill="#30154a"/>
<circle cx="486.25" cy="488.75" r="1.65" fill="#30154a"/>
<line x1="399" y1="461.3" x2="485.5" y2="500.75" stroke="#222" stroke-width="1.0"/>
<text transform="translate(363.8,467.2) rotate(-90)" x="0" y="0" font-size="9.2" font-weight="normal" text-anchor="middle" fill="#222" stroke="#222" stroke-width="0.3" textLength="116.39999999999998" lengthAdjust="spacingAndGlyphs">% Ki67 Foxp3<tspan dy="-3" font-size="6.8">+</tspan><tspan dy="3">-Ex2CD4</tspan><tspan dy="-3" font-size="6.8">+</tspan><tspan dy="3"> T lymphocytes/</tspan></text>
<text transform="translate(372.3,466.4) rotate(-90)" x="0" y="0" font-size="9.2" font-weight="normal" text-anchor="middle" fill="#222" stroke="#222" stroke-width="0.3" textLength="34.400000000000034" lengthAdjust="spacingAndGlyphs">CD4<tspan dy="-3" font-size="6.8">+</tspan><tspan dy="3"> T cells</tspan></text>
<text x="473.2" y="415.7" font-size="8" text-anchor="start" font-weight="normal" fill="#222" textLength="31" lengthAdjust="spacingAndGlyphs" stroke="#222" stroke-width="0.15"><tspan font-style="italic">r</tspan> = −0.83</text>
<text x="473.2" y="424.9" font-size="8" text-anchor="start" font-weight="normal" fill="#222" textLength="26.7" lengthAdjust="spacingAndGlyphs" stroke="#222" stroke-width="0.15"><tspan font-style="italic">P</tspan> &lt; .001</text>
</svg></body></html>
